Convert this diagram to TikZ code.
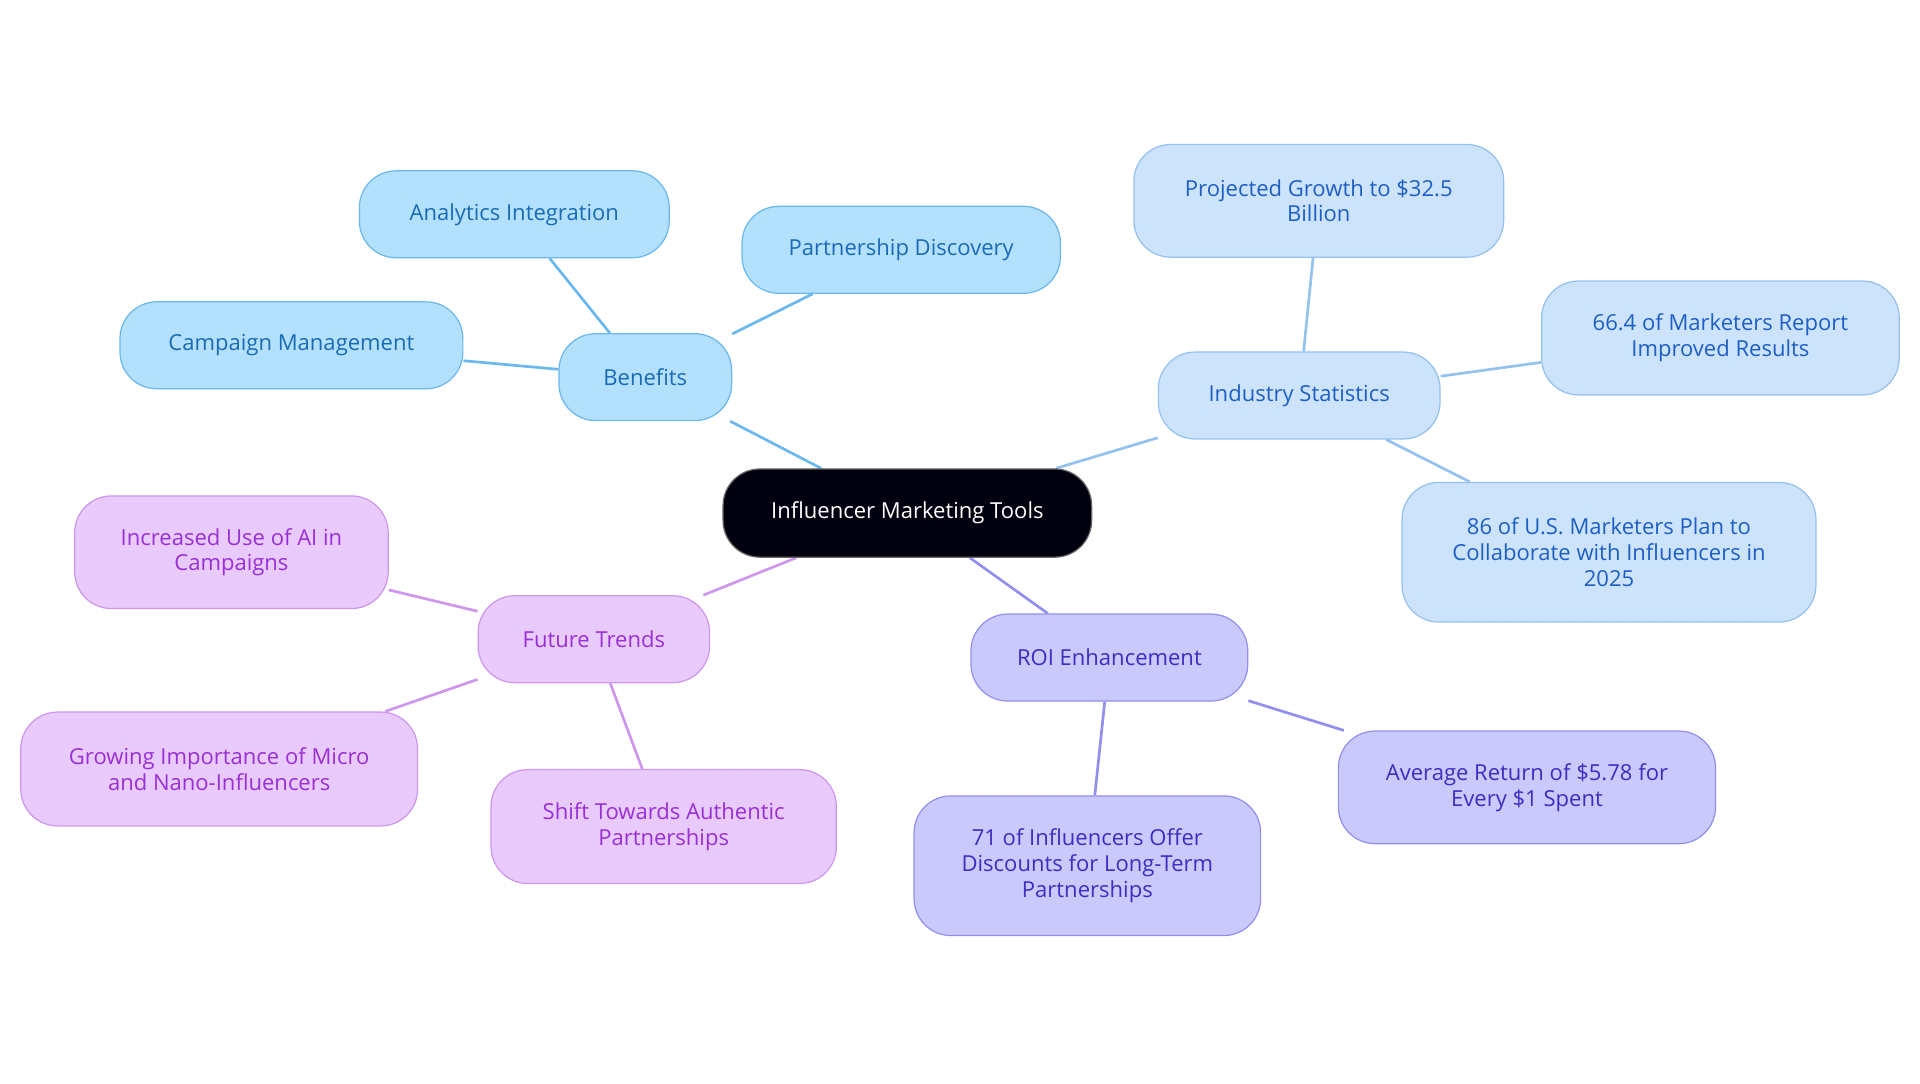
\documentclass[tikz,border=0pt]{standalone}
\usepackage{fontspec}
\setmainfont{Open Sans}
\begin{document}
\begin{tikzpicture}[x=1pt,y=-1pt,
 nd/.style={draw,rounded corners=30pt,align=center,inner sep=0pt,line width=1pt,font=\fontsize{18}{21}\selectfont},
 bl/.style={nd,fill=blfill,draw=blline,text=bltext},
 is/.style={nd,fill=isfill,draw=isline,text=istext},
 ro/.style={nd,fill=rofill,draw=roline,text=rotext},
 ft/.style={nd,fill=ftfill,draw=ftline,text=fttext},
 e/.style={line width=2.2pt}]
\definecolor{blfill}{HTML}{B3E0FC}\definecolor{blline}{HTML}{6BB8EE}\definecolor{bltext}{HTML}{1A6BB5}
\definecolor{isfill}{HTML}{CCE3FB}\definecolor{isline}{HTML}{94C2EF}\definecolor{istext}{HTML}{1D5FC4}
\definecolor{rofill}{HTML}{CAC9FC}\definecolor{roline}{HTML}{9290EE}\definecolor{rotext}{HTML}{3A2FC0}
\definecolor{ftfill}{HTML}{E8CAFC}\definecolor{ftline}{HTML}{CF96EE}\definecolor{fttext}{HTML}{9A2FD6}
\useasboundingbox (0,0) rectangle (1568,884.5);
\def\n#1#2#3#4#5#6{\node[#1,minimum width=#4,minimum height=#5] (#2) at #3 {#6};}
% edges drawn after nodes defined, on background via order
\n{nd,fill=black!90!blue!60!black,draw=black!60,text=white}{c}{(741,419)}{301pt}{72pt}{Influencer Marketing Tools}
\n{bl}{b}{(527,308)}{141pt}{71pt}{Benefits}
\n{bl}{b1}{(420,175)}{253pt}{71pt}{Analytics Integration}
\n{bl}{b2}{(736,204)}{260pt}{71pt}{Partnership Discovery}
\n{bl}{b3}{(238,282)}{280pt}{71pt}{Campaign Management}
\n{is}{s}{(1061,323)}{230pt}{71pt}{Industry Statistics}
\n{is}{s1}{(1077,164)}{302pt}{92pt}{Projected Growth to \$32.5\\Billion}
\n{is}{s2}{(1405,276)}{292pt}{93pt}{66.4 of Marketers Report\\Improved Results}
\n{is}{s3}{(1314,451)}{338pt}{114pt}{86 of U.S. Marketers Plan to\\Collaborate with Influencers in\\2025}
\n{ro}{r}{(906,537)}{226pt}{71pt}{ROI Enhancement}
\n{ro}{r1}{(1247,643)}{308pt}{92pt}{Average Return of \$5.78 for\\Every \$1 Spent}
\n{ro}{r2}{(888,707)}{283pt}{114pt}{71 of Influencers Offer\\Discounts for Long-Term\\Partnerships}
\n{ft}{f}{(485,522)}{189pt}{71pt}{Future Trends}
\n{ft}{f1}{(189,451)}{256pt}{92pt}{Increased Use of AI in\\Campaigns}
\n{ft}{f2}{(179,628)}{324pt}{93pt}{Growing Importance of Micro\\and Nano-Influencers}
\n{ft}{f3}{(542,675)}{282pt}{93pt}{Shift Towards Authentic\\Partnerships}
\begin{scope}[on background layer/.style={}]
\end{scope}
\pgfdeclarelayer{bg}\pgfsetlayers{bg,main}
\begin{pgfonlayer}{bg}
\draw[e,blline] (c)--(b) (b)--(b1) (b)--(b2) (b)--(b3);
\draw[e,isline] (c)--(s) (s)--(s1) (s)--(s2) (s)--(s3);
\draw[e,roline] (c)--(r) (r)--(r1) (r)--(r2);
\draw[e,ftline] (c)--(f) (f)--(f1) (f)--(f2) (f)--(f3);
\end{pgfonlayer}
\end{tikzpicture}
\end{document}
